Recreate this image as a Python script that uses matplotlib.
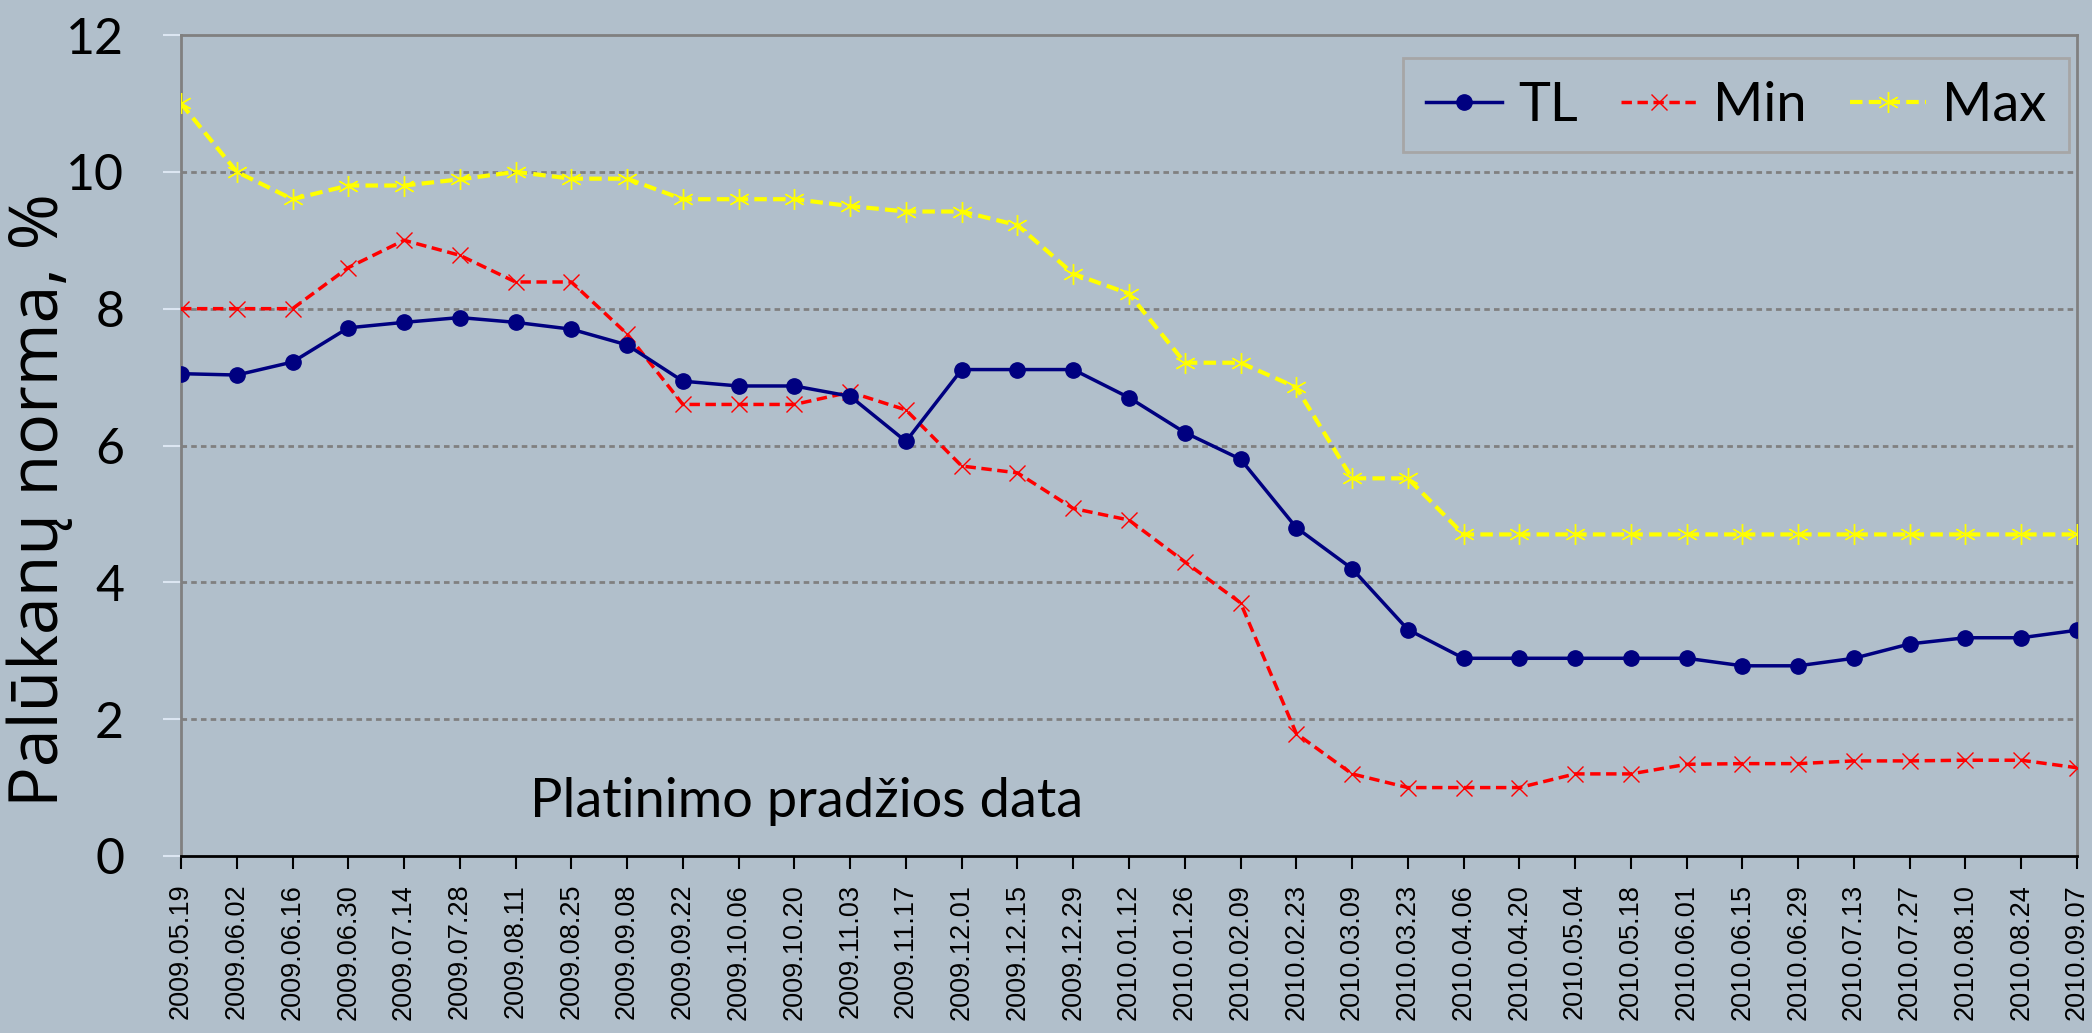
import matplotlib
matplotlib.use("Agg")
import matplotlib.pyplot as plt
from matplotlib.lines import Line2D

dates = ["2009.05.19", "2009.06.02", "2009.06.16", "2009.06.30", "2009.07.14",
         "2009.07.28", "2009.08.11", "2009.08.25", "2009.09.08", "2009.09.22",
         "2009.10.06", "2009.10.20", "2009.11.03", "2009.11.17", "2009.12.01",
         "2009.12.15", "2009.12.29", "2010.01.12", "2010.01.26", "2010.02.09",
         "2010.02.23", "2010.03.09", "2010.03.23", "2010.04.06", "2010.04.20",
         "2010.05.04", "2010.05.18", "2010.06.01", "2010.06.15", "2010.06.29",
         "2010.07.13", "2010.07.27", "2010.08.10", "2010.08.24", "2010.09.07"]

tl = [7.05, 7.03, 7.22, 7.72, 7.8, 7.87, 7.8, 7.7, 7.47, 6.94,
      6.87, 6.87, 6.72, 6.06, 7.11, 7.11, 7.11, 6.7, 6.19, 5.8,
      4.8, 4.2, 3.31, 2.89, 2.89, 2.89, 2.89, 2.89, 2.78, 2.78,
      2.89, 3.1, 3.19, 3.19, 3.3]

mins = [8.0, 8.0, 8.0, 8.6, 9.0, 8.78, 8.39, 8.39, 7.63, 6.6,
        6.6, 6.6, 6.78, 6.52, 5.7, 5.6, 5.08, 4.91, 4.3, 3.7,
        1.79, 1.2, 1.0, 1.0, 1.0, 1.2, 1.2, 1.34, 1.35, 1.35,
        1.39, 1.39, 1.4, 1.4, 1.29]

maxs = [11.0, 10.0, 9.6, 9.8, 9.8, 9.89, 10.0, 9.9, 9.9, 9.6,
        9.6, 9.6, 9.5, 9.42, 9.42, 9.22, 8.51, 8.22, 7.21, 7.21,
        6.85, 5.52, 5.52, 4.7, 4.7, 4.7, 4.7, 4.7, 4.7, 4.7,
        4.7, 4.7, 4.7, 4.7, 4.7]

bg = "#b1bfcb"
narrow = ["Lato", "DejaVu Sans"]

fig = plt.figure(figsize=(20.92, 10.33), dpi=100, facecolor=bg)
ax = fig.add_axes([181 / 2092, 1 - 856 / 1033, (2077 - 181) / 2092, (856 - 35) / 1033])
ax.set_facecolor(bg)

x = list(range(len(dates)))
star = (6, 2, 0)

ax.plot(x, maxs, color="#ffff00", lw=3, dashes=(3, 1.5), marker=star,
        markersize=15, markeredgewidth=1.0, label="Max", zorder=3)
ax.plot(x, mins, color="#ff0000", lw=2.5, dashes=(3, 1.6), marker="x",
        markersize=12, markeredgewidth=1.0, label="Min", zorder=4)
ax.plot(x, tl, color="#000080", lw=2.5, marker="o", markersize=11,
        label="TL", zorder=5)

ax.set_xlim(0, len(dates) - 1)
ax.set_ylim(0, 12)
ax.set_yticks(range(0, 13, 2))
ax.set_xticks(x)
ax.set_xticklabels(dates, rotation=90, fontsize=19.5, family="Liberation Sans")

for v in range(2, 12, 2):
    ax.axhline(v, color="#808080", lw=2, dashes=(2, 1.5), zorder=1)

ax.tick_params(axis="y", length=13, width=1.5, color="#dce6f2", pad=28,
               labelsize=36)
ax.tick_params(axis="x", length=9, width=1.5, color="black", pad=11)
for lab in ax.get_yticklabels():
    lab.set_family(narrow)

for side in ["top", "left", "right"]:
    ax.spines[side].set_color("#808080")
    ax.spines[side].set_linewidth(2)
ax.spines["bottom"].set_color("black")
ax.spines["bottom"].set_linewidth(2)

ax.text(0.33, 0.066, "Platinimo pradžios data", transform=ax.transAxes,
        ha="center", va="center", fontsize=39, family=narrow)

fig.text(40 / 2092, 1 - 500 / 1033, "Palūkanų norma, %", rotation=90,
         ha="center", va="center", fontsize=49, family="Open Sans")

handles = [
    Line2D([], [], color="#000080", lw=2.5, marker="o", markersize=11),
    Line2D([], [], color="#ff0000", lw=2.5, dashes=(3, 1.6), marker="x",
           markersize=12, markeredgewidth=1.0),
    Line2D([], [], color="#ffff00", lw=3, dashes=(3, 1.5), marker=star,
           markersize=15, markeredgewidth=1.0),
]
leg = ax.legend(handles, ["TL", "Min", "Max"], loc="upper right", ncol=3,
                bbox_to_anchor=(0.9958, 0.972), borderaxespad=0,
                frameon=True, fancybox=False,
                facecolor=bg, edgecolor="#a6a6a6", framealpha=1,
                prop={"family": narrow, "size": 39}, handlelength=1.4,
                handletextpad=0.3, columnspacing=0.8, borderpad=0.42)
leg.get_frame().set_linewidth(2)

fig.savefig("out.png", dpi=100, facecolor=bg)
